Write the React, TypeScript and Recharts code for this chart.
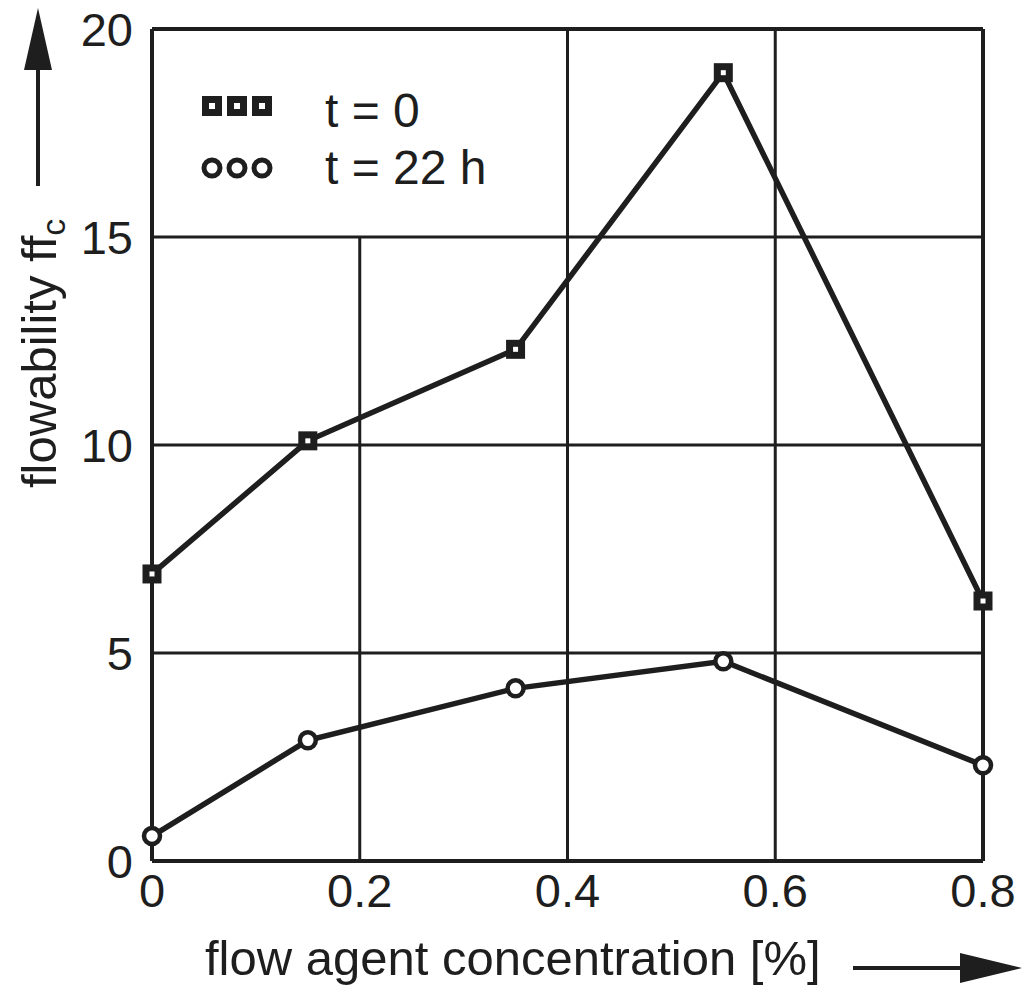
import { Line, LineChart, ReferenceLine, XAxis, YAxis } from "recharts";

// flow agent concentration [%]
const concentration = [0, 0.15, 0.35, 0.55, 0.8];
// flowability ffc at t = 0 and after 22 h storage
const ffcStart = [6.9, 10.1, 12.3, 18.95, 6.25];
const ffc22h = [0.6, 2.9, 4.15, 4.8, 2.3];

const xTicks = [0, 0.2, 0.4, 0.6, 0.8];
const yTicks = [0, 5, 10, 15, 20];
const seriesNames = ["t = 0", "t = 22 h"];

const data = concentration.map((c, i) => ({ c, start: ffcStart[i], after: ffc22h[i] }));

const ink = "#1e1e1e";
const font = "Liberation Sans, Arial, Helvetica, sans-serif";

const SquareDot = (props: any) => {
  const { cx, cy, index } = props;
  if (cx == null || cy == null) return null;
  return <rect key={`sq-${index}`} x={cx - 6} y={cy - 6} width={12} height={12} fill="#fff" stroke={ink} strokeWidth={7} />;
};

const CircleDot = (props: any) => {
  const { cx, cy, index } = props;
  if (cx == null || cy == null) return null;
  return <circle key={`ci-${index}`} cx={cx} cy={cy} r={8} fill="#fff" stroke={ink} strokeWidth={4.5} />;
};

// legend drawn in the top-left cell of the plot
function LegendBox() {
  const xs = [212, 237, 262];
  return (
    <g>
      {xs.map((x) => (
        <rect key={`l1-${x}`} x={x - 6.5} y={106 - 6.5} width={13} height={13} fill="#fff" stroke={ink} strokeWidth={7} />
      ))}
      {xs.map((x) => (
        <circle key={`l2-${x}`} cx={x} cy={168} r={8} fill="#fff" stroke={ink} strokeWidth={5} />
      ))}
      <text x={325} y={127} fontSize={48} fontFamily={font} fill={ink}>
        {seriesNames[0]}
      </text>
      <text x={325} y={184} fontSize={48} fontFamily={font} fill={ink}>
        {seriesNames[1]}
      </text>
    </g>
  );
}

const XTitle = (props: any) => {
  const vb = props.viewBox || { x: 152 };
  const left = vb.x + 53;
  const ay = 968;
  return (
    <g>
      <text x={left} y={975} fontSize={49} fontFamily={font} fill={ink}>
        flow agent concentration [%]
      </text>
      <line x1={853} y1={ay} x2={965} y2={ay} stroke={ink} strokeWidth={4} />
      <path d={`M960,${ay - 15} L1022,${ay} L960,${ay + 15} Z`} fill={ink} />
    </g>
  );
};

const YTitle = () => {
  const bx = 56;
  const by = 488;
  return (
    <g>
      <text x={bx} y={by} transform={`rotate(-90 ${bx} ${by})`} fontSize={49} fontFamily={font} fill={ink}>
        flowability ff
        <tspan fontSize={34} dy={9}>
          c
        </tspan>
      </text>
      <line x1={38} y1={186} x2={38} y2={65} stroke={ink} strokeWidth={4} />
      <path d="M24,70 L38,8 L52,70 Z" fill={ink} />
      <LegendBox />
    </g>
  );
};

export default function App() {
  return (
    <div style={{ position: "absolute", left: 0, top: 0, width: 1028, height: 992, background: "#fff" }}>
      <LineChart width={1028} height={992} data={data} margin={{ top: 29, right: 45, bottom: 51, left: 72 }}>
        <XAxis
          dataKey="c"
          type="number"
          domain={[0, 0.8]}
          ticks={xTicks}
          tickFormatter={(v: number) => String(v)}
          axisLine={false}
          tickLine={false}
          tickSize={0}
          tickMargin={13}
          height={80}
          tick={{ fontSize: 47, fill: ink, fontFamily: font }}
          label={<XTitle />}
        />
        <YAxis
          type="number"
          domain={[0, 20]}
          ticks={yTicks}
          axisLine={false}
          tickLine={false}
          tickSize={0}
          tickMargin={19}
          width={80}
          tick={{ fontSize: 47, fill: ink, fontFamily: font }}
          label={<YTitle />}
        />
        {/* grid; the 0.2 line stops under the legend */}
        <ReferenceLine segment={[{ x: 0.2, y: 0 }, { x: 0.2, y: 15 }]} stroke={ink} strokeWidth={3} />
        <ReferenceLine x={0.4} stroke={ink} strokeWidth={3} />
        <ReferenceLine x={0.6} stroke={ink} strokeWidth={3} />
        <ReferenceLine y={5} stroke={ink} strokeWidth={3} />
        <ReferenceLine y={10} stroke={ink} strokeWidth={3} />
        <ReferenceLine y={15} stroke={ink} strokeWidth={3} />
        {/* frame */}
        <ReferenceLine x={0} stroke={ink} strokeWidth={4} />
        <ReferenceLine x={0.8} stroke={ink} strokeWidth={4} />
        <ReferenceLine y={0} stroke={ink} strokeWidth={4} />
        <ReferenceLine y={20} stroke={ink} strokeWidth={4} />
        <Line
          dataKey="start"
          name={seriesNames[0]}
          type="linear"
          stroke={ink}
          strokeWidth={5.5}
          dot={<SquareDot />}
          isAnimationActive={false}
        />
        <Line
          dataKey="after"
          name={seriesNames[1]}
          type="linear"
          stroke={ink}
          strokeWidth={5.5}
          dot={<CircleDot />}
          isAnimationActive={false}
        />
      </LineChart>
    </div>
  );
}
